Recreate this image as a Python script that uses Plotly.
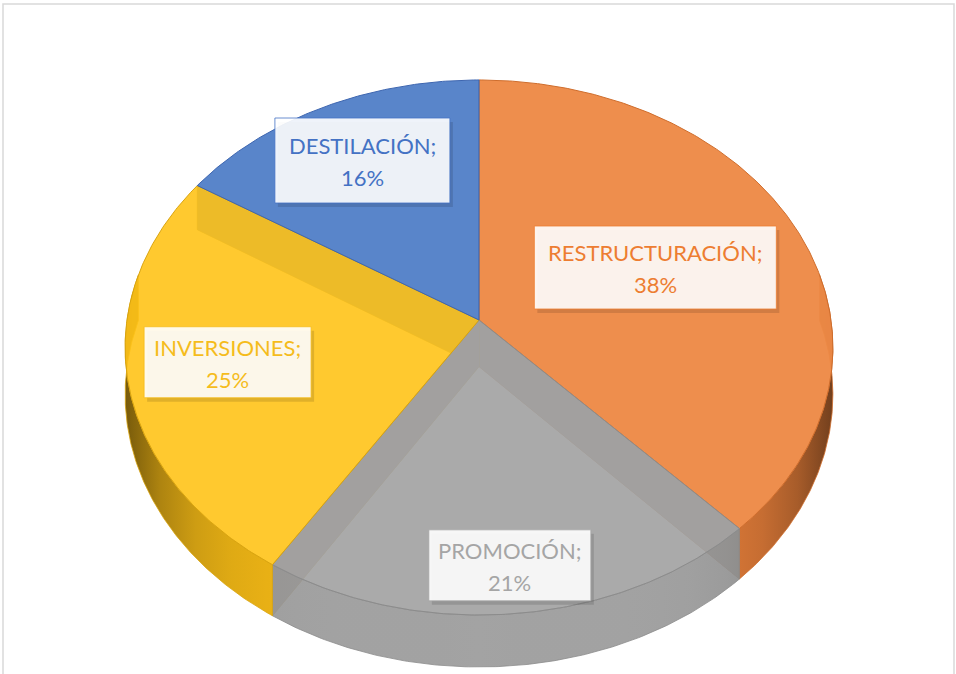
import numpy as np
import plotly.graph_objects as go

# ---------------- data ----------------
labels = ["RESTRUCTURACIÓN", "PROMOCIÓN", "INVERSIONES", "DESTILACIÓN"]
values = [38, 21, 25, 16]

# ---------------- styles ----------------
TOP = {"RESTRUCTURACIÓN": (237, 137, 70), "PROMOCIÓN": (156, 156, 156),
       "INVERSIONES": (255, 195, 24), "DESTILACIÓN": (82, 128, 200)}
SIDE = {"RESTRUCTURACIÓN": (228, 126, 58), "PROMOCIÓN": (148, 148, 148),
        "INVERSIONES": (238, 181, 22), "DESTILACIÓN": (66, 104, 175)}
WALL = {"RESTRUCTURACIÓN": (215, 118, 52), "PROMOCIÓN": (196, 186, 176),
        "INVERSIONES": (222, 166, 12), "DESTILACIÓN": (70, 110, 180)}
EDGE = {"RESTRUCTURACIÓN": "#CF6D2C", "PROMOCIÓN": "#8C8C8C",
        "INVERSIONES": "#D9A410", "DESTILACIÓN": "#3E66B0"}
TEXTC = {"RESTRUCTURACIÓN": "#ED7D31", "PROMOCIÓN": "#A5A5A5",
         "INVERSIONES": "#F5BC1C", "DESTILACIÓN": "#4472C4"}
TOP_ALPHA = {"RESTRUCTURACIÓN": 0.96, "PROMOCIÓN": 0.86,
             "INVERSIONES": 0.9, "DESTILACIÓN": 0.96}
SIDE_ALPHA = {"RESTRUCTURACIÓN": 1.0, "PROMOCIÓN": 0.86,
              "INVERSIONES": 1.0, "DESTILACIÓN": 1.0}
LABEL_R = {"RESTRUCTURACIÓN": 0.55, "PROMOCIÓN": 0.85,
           "INVERSIONES": 0.72, "DESTILACIÓN": 0.733}
BOX = {"RESTRUCTURACIÓN": (242, 83), "PROMOCIÓN": (162, 71),
       "INVERSIONES": (167, 71), "DESTILACIÓN": (175, 85)}

# projection of a tilted disc (pixel space)
W, H = 956, 674
CX, CY, RX, RY, K, DEPTH = 479.0, 320.0, 352.0, 264.7, 0.1028, 46.6


def proj(theta_deg, r=1.0, drop=0.0):
    t = np.radians(np.asarray(theta_deg, dtype=float))
    u = r * np.sin(t)
    w = -r * np.cos(t)
    g = 1.0 / (1.0 - K * w)
    return CX + RX * u * g, CY + (RY * w + drop) * g


def rgba(c, a=1.0, f=1.0):
    return "rgba(%d,%d,%d,%.3f)" % (min(255, c[0] * f), min(255, c[1] * f), min(255, c[2] * f), a)


total = float(sum(values))
bounds = []
acc = 0.0
for v in values:
    a0 = acc / total * 360.0
    acc += v
    a1 = acc / total * 360.0
    bounds.append((a0, a1))

fig = go.Figure()

# ---- radial (cut) walls, back to front ----
walls = []
for lab, (a0, a1) in zip(labels, bounds):
    for tt in (a0, a1):
        x0, y0 = proj(0, r=0)
        x1, y1 = proj(tt)
        x2, y2 = proj(tt, drop=DEPTH)
        x3, y3 = proj(0, r=0, drop=DEPTH)
        depth = -0.5 * np.cos(np.radians(tt)) + (0.01 if lab == "PROMOCIÓN" else 0)
        walls.append((depth, [x0, x1, x2, x3, x0], [y0, y1, y2, y3, y0], rgba(WALL[lab])))
walls.sort(key=lambda it: it[0])
for depth, xs, ys, col in walls:
    fig.add_trace(go.Scatter(x=[float(v) for v in xs], y=[float(v) for v in ys],
                             mode="lines", fill="toself", fillcolor=col,
                             line=dict(color=col, width=0.5),
                             hoverinfo="skip", showlegend=False))

# ---- outer curved walls (visible front part), horizontal light gradient ----
X_LEFT, X_RIGHT = CX - RX * 1.006, CX + RX * 1.006
for lab, (a0, a1) in zip(labels, bounds):
    lo, hi = max(a0, 80.0), min(a1, 280.0)
    if hi <= lo:
        continue
    th = np.linspace(lo, hi, int((hi - lo) / 0.5) + 2)
    xt, yt = proj(th)
    xb, yb = proj(th[::-1], drop=DEPTH)
    scale = []
    for p in np.linspace(0, 1, 21):
        u = 2 * p - 1
        f = 1.0 - 0.5 * abs(u) ** 6
        scale.append([float(p), rgba(SIDE[lab], SIDE_ALPHA[lab], f)])
    fig.add_trace(go.Scatter(x=np.r_[xt, xb, xt[0]], y=np.r_[yt, yb, yt[0]],
                             mode="lines", fill="toself",
                             fillgradient=dict(type="horizontal", colorscale=scale,
                                               start=X_LEFT, stop=X_RIGHT),
                             line=dict(color=EDGE[lab], width=0.8),
                             hoverinfo="skip", showlegend=False))

# ---- top faces ----
for lab, v, (a0, a1) in zip(labels, values, bounds):
    th = np.linspace(a0, a1, max(3, int((a1 - a0) / 0.5)))
    xs, ys = proj(th)
    ax_, ay_ = proj(0, r=0)
    fig.add_trace(go.Scatter(x=np.r_[ax_, xs, ax_], y=np.r_[ay_, ys, ay_],
                             mode="lines", fill="toself",
                             fillcolor=rgba(TOP[lab], TOP_ALPHA[lab]),
                             line=dict(color=EDGE[lab], width=1),
                             name=lab, text=["%s; %d%%" % (lab, v)] * (len(th) + 2),
                             hoverinfo="text", showlegend=False))

shapes = [dict(type="rect", xref="paper", yref="paper", x0=3 / W, x1=954 / W,
               y0=-0.05, y1=1 - 4 / H, line=dict(color="#D9D9D9", width=1.5),
               fillcolor="rgba(0,0,0,0)", layer="below")]
annotations = []
FONT = "Lato, 'Open Sans', Arial, sans-serif"
for lab, v, (a0, a1) in zip(labels, values, bounds):
    mid = (a0 + a1) / 2
    lx, ly = proj(mid, r=LABEL_R[lab])
    lx, ly = float(lx), float(ly)
    bw, bh = BOX[lab]
    shapes.append(dict(type="rect", xref="x", yref="y", x0=lx - bw / 2 + 3, x1=lx + bw / 2 + 3,
                       y0=ly - bh / 2 + 4, y1=ly + bh / 2 + 4,
                       fillcolor="rgba(0,0,0,0.12)", line=dict(width=0)))
    shapes.append(dict(type="rect", xref="x", yref="y", x0=lx - bw / 2, x1=lx + bw / 2,
                       y0=ly - bh / 2, y1=ly + bh / 2,
                       fillcolor="rgba(255,255,255,0.9)", line=dict(color=TEXTC[lab], width=0.8)))
    for txt, dy in (("%s;" % lab, -15), ("%d%%" % round(v / total * 100), 17)):
        annotations.append(dict(x=lx, y=ly + dy, xref="x", yref="y", text=txt,
                                showarrow=False, xanchor="center", yanchor="middle",
                                font=dict(family=FONT, size=22, color=TEXTC[lab])))

fig.update_layout(
    width=W, height=H, autosize=False,
    margin=dict(l=0, r=0, t=0, b=0, pad=0),
    paper_bgcolor="white", plot_bgcolor="white",
    xaxis=dict(range=[0, W], visible=False, fixedrange=True),
    yaxis=dict(range=[H, 0], visible=False, fixedrange=True),
    shapes=shapes, annotations=annotations, showlegend=False,
)
fig.write_html("out.html", config={"displayModeBar": False},
               post_script="document.body.style.margin='0';document.body.style.overflow='hidden';")
